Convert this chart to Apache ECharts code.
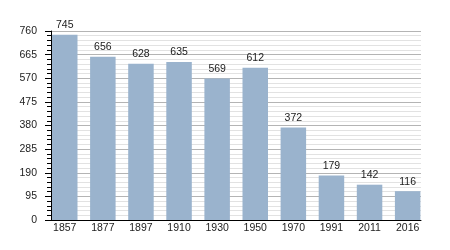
<!DOCTYPE html>
<html>
<head>
<meta charset="utf-8">
<script src="https://cdn.jsdelivr.net/npm/echarts@6/dist/echarts.min.js"></script>
<style>html,body{margin:0;padding:0;background:#fff;}#c{width:450px;height:250px;}</style>
</head>
<body>
<div id="c"></div>
<script>
var years = ['1857','1877','1897','1910','1930','1950','1970','1991','2011','2016'];
var population = [745, 656, 628, 635, 569, 612, 372, 179, 142, 116];
var yMin = 0, yMax = 760, yStep = 95;

var font = 'Liberation Sans, Arial, sans-serif';
var chart = echarts.init(document.getElementById('c'), null, {renderer: 'canvas'});
chart.setOption({
  animation: false,
  backgroundColor: '#ffffff',
  grid: [
    {left: 51, right: 29, top: 31, bottom: 30},
    {left: 45.7, right: 23.3, top: 31, bottom: 30}
  ],
  xAxis: [
    {type: 'category', gridIndex: 0, data: years,
     axisLine: {show: true, lineStyle: {color: '#000', width: 1}},
     axisTick: {show: false}, axisLabel: {show: false}, splitLine: {show: false}},
    {type: 'category', gridIndex: 1, data: years,
     axisLine: {show: false}, axisTick: {show: false},
     axisLabel: {show: true, color: '#222', fontSize: 10.5, fontFamily: font, margin: 3},
     splitLine: {show: false}}
  ],
  yAxis: [
    {type: 'value', gridIndex: 0, min: yMin, max: yMax, interval: yStep,
     axisLine: {show: true, lineStyle: {color: '#000', width: 1}},
     axisTick: {show: true, length: 6, lineStyle: {color: '#000'}},
     minorTick: {show: true, splitNumber: 5, length: 4, lineStyle: {color: '#000'}},
     axisLabel: {color: '#222', fontSize: 10.5, fontFamily: font, margin: 14},
     splitLine: {show: true, lineStyle: {color: '#b4b4b4', width: 1}},
     minorSplitLine: {show: true, lineStyle: {color: '#e2e2e2', width: 1}}},
    {type: 'value', gridIndex: 1, min: yMin, max: yMax, interval: yStep, show: false,
     splitLine: {show: false}}
  ],
  series: [{
    type: 'bar', xAxisIndex: 1, yAxisIndex: 1,
    data: population,
    barWidth: 25.5,
    itemStyle: {color: '#9ab3cd'},
    label: {show: true, position: 'top', distance: 4, color: '#222', fontSize: 10.5, fontFamily: font}
  }]
});
</script>
</body>
</html>
